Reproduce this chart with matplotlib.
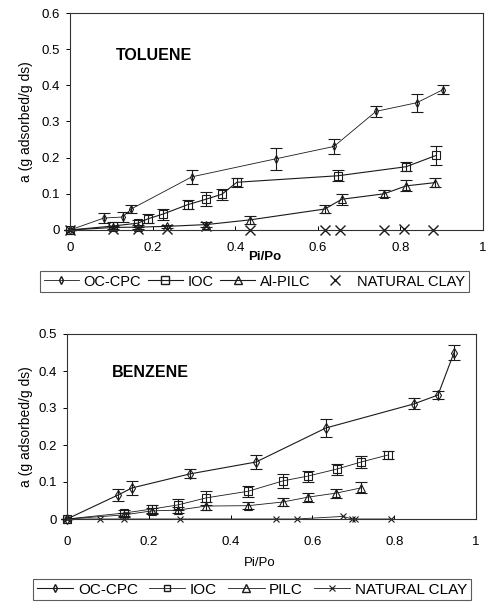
#### adsorption isotherms - toluene / benzene on clays

import matplotlib
matplotlib.use("Agg")
from matplotlib import pyplot as plt

plt.rcParams["font.family"] = ["Liberation Sans", "DejaVu Sans"]

##### TOLUENE data (Pi/Po, a, error)
tol_occpc_x = [0, 0.082, 0.128, 0.148, 0.295, 0.499, 0.639, 0.741, 0.840, 0.903]
tol_occpc_y = [0, 0.033, 0.036, 0.058, 0.147, 0.197, 0.231, 0.328, 0.352, 0.388]
tol_occpc_e = [0, 0.015, 0.015, 0.012, 0.02, 0.03, 0.02, 0.015, 0.025, 0.012]

tol_ioc_x = [0, 0.104, 0.165, 0.189, 0.225, 0.285, 0.329, 0.368, 0.404, 0.649, 0.814, 0.886]
tol_ioc_y = [0, 0.011, 0.019, 0.031, 0.044, 0.070, 0.085, 0.099, 0.132, 0.150, 0.175, 0.206]
tol_ioc_e = [0, 0.01, 0.01, 0.012, 0.015, 0.012, 0.02, 0.015, 0.012, 0.015, 0.012, 0.025]

tol_pilc_x = [0, 0.105, 0.165, 0.235, 0.330, 0.436, 0.617, 0.658, 0.760, 0.814, 0.884]
tol_pilc_y = [0, 0.007, 0.008, 0.010, 0.015, 0.028, 0.058, 0.085, 0.100, 0.122, 0.131]
tol_pilc_e = [0, 0.005, 0.005, 0.005, 0.008, 0.012, 0.01, 0.015, 0.01, 0.015, 0.012]

tol_clay_x = [0, 0.105, 0.165, 0.235, 0.330, 0.436, 0.617, 0.654, 0.760, 0.809, 0.879]
tol_clay_y = [0, 0.003, 0.003, 0.004, 0.010, 0.0, 0.0, 0.0, 0.0, 0.002, 0.0]

##### BENZENE data
ben_occpc_x = [0, 0.125, 0.159, 0.301, 0.462, 0.633, 0.848, 0.907, 0.946]
ben_occpc_y = [0, 0.065, 0.084, 0.122, 0.154, 0.246, 0.311, 0.335, 0.449]
ben_occpc_e = [0, 0.015, 0.02, 0.012, 0.02, 0.025, 0.015, 0.012, 0.02]

ben_ioc_x = [0, 0.139, 0.208, 0.271, 0.340, 0.443, 0.528, 0.589, 0.660, 0.719, 0.785]
ben_ioc_y = [0, 0.016, 0.027, 0.038, 0.057, 0.075, 0.103, 0.116, 0.135, 0.154, 0.173]
ben_ioc_e = [0, 0.008, 0.012, 0.015, 0.018, 0.015, 0.018, 0.015, 0.015, 0.015, 0.01]

ben_pilc_x = [0, 0.139, 0.208, 0.271, 0.340, 0.443, 0.528, 0.589, 0.658, 0.719]
ben_pilc_y = [0, 0.011, 0.022, 0.024, 0.035, 0.036, 0.046, 0.059, 0.070, 0.084]
ben_pilc_e = [0, 0.006, 0.008, 0.008, 0.01, 0.01, 0.012, 0.012, 0.012, 0.015]

ben_clay_x = [0, 0.081, 0.139, 0.276, 0.511, 0.562, 0.675, 0.697, 0.704, 0.792]
ben_clay_y = [0, 0.0, 0.0, 0.0, 0.0, 0.0, 0.007, 0.0, 0.0, 0.0]

tol_labels = ["OC-CPC", "IOC", "Al-PILC", "NATURAL CLAY"]
ben_labels = ["OC-CPC", "IOC", "PILC", "NATURAL CLAY"]

ink = "#1a1a1a"


def style_axes(ax, ymax, xpad):
    ax.set_xlim(0, 1)
    ax.set_ylim(0, ymax)
    n = int(round(ymax * 10))
    ax.set_xticks([0, 0.2, 0.4, 0.6, 0.8, 1])
    ax.set_xticklabels(["0", "0.2", "0.4", "0.6", "0.8", "1"])
    ax.set_yticks([i / 10 for i in range(n + 1)])
    ax.set_yticklabels(["0"] + ["%.1f" % (i / 10) for i in range(1, n + 1)])
    ax.tick_params(axis="x", direction="in", length=3, pad=xpad, labelsize=9.5, width=0.7)
    ax.tick_params(axis="y", direction="out", length=3, pad=4, labelsize=9.5, width=0.7)
    for s in ax.spines.values():
        s.set_linewidth(0.8)
        s.set_color("#333333")


def series(ax, x, y, e, marker, ms, lw=0.8):
    ax.errorbar(x, y, yerr=e, color=ink, marker=marker, ms=ms, mfc="none", mec=ink,
                mew=0.8, lw=lw, elinewidth=0.8, capsize=4, capthick=0.8, clip_on=False)


def make_legend(handles, labels, x0, yc, fs, colsp):
    leg = fig.legend(handles, labels, loc="center left", bbox_to_anchor=(x0 / 489, 1 - yc / 602),
                     ncol=4, frameon=True, fancybox=False, edgecolor="#333333", fontsize=fs,
                     handlelength=2.4, handletextpad=0.3, columnspacing=colsp, borderpad=0.25,
                     borderaxespad=0)
    leg.get_frame().set_linewidth(0.8)
    return leg


fig = plt.figure(figsize=(4.89, 6.02), dpi=100)

#### TOLUENE
ax1 = fig.add_axes([70 / 489, 1 - 230 / 602, 413 / 489, 217 / 602])
series(ax1, tol_occpc_x, tol_occpc_y, tol_occpc_e, "d", 4, 0.6)
series(ax1, tol_ioc_x, tol_ioc_y, tol_ioc_e, "s", 6)
series(ax1, tol_pilc_x, tol_pilc_y, tol_pilc_e, "^", 5.5)
ax1.plot(tol_clay_x, tol_clay_y, ls="none", marker="x", ms=7, mew=1.0, color=ink, clip_on=False)
style_axes(ax1, 0.6, 9)
ax1.text(0.11, 0.483, "TOLUENE", fontsize=11.5, fontweight="bold", va="center")
ax1.set_ylabel("a (g adsorbed/g ds)", fontsize=10)
ax1.yaxis.set_label_coords(-0.09, 0.5)
fig.text(265 / 489, 1 - 257 / 602, "Pi/Po", fontsize=9.5, fontweight="bold", ha="center", va="center")

h1 = [plt.Line2D([], [], color=ink, lw=0.6, marker="d", ms=4, mfc="none"),
      plt.Line2D([], [], color=ink, lw=0.8, marker="s", ms=6, mfc="none"),
      plt.Line2D([], [], color=ink, lw=0.8, marker="^", ms=5.5, mfc="none"),
      plt.Line2D([], [], color=ink, ls="none", marker="x", ms=7, mew=1.0)]
make_legend(h1, tol_labels, 40, 281.5, 10.5, 0.5)

#### BENZENE
ax2 = fig.add_axes([67 / 489, 1 - 519 / 602, 409 / 489, 185 / 602])
series(ax2, ben_occpc_x, ben_occpc_y, ben_occpc_e, "d", 5)
series(ax2, ben_ioc_x, ben_ioc_y, ben_ioc_e, "s", 6, 0.6)
series(ax2, ben_pilc_x, ben_pilc_y, ben_pilc_e, "^", 5.5, 0.6)
ax2.plot(ben_clay_x, ben_clay_y, color=ink, lw=0.6, marker="x", ms=4, mew=0.8, clip_on=False)
style_axes(ax2, 0.5, 12)
ax2.text(0.11, 0.395, "BENZENE", fontsize=11.5, fontweight="bold", va="center")
ax2.set_ylabel("a (g adsorbed/g ds)", fontsize=10)
ax2.yaxis.set_label_coords(-0.083, 0.5)
fig.text(260 / 489, 1 - 563 / 602, "Pi/Po", fontsize=9.5, ha="center", va="center")

h2 = [plt.Line2D([], [], color=ink, lw=0.8, marker="d", ms=4, mfc="none"),
      plt.Line2D([], [], color=ink, lw=0.6, marker="s", ms=5, mfc="none"),
      plt.Line2D([], [], color=ink, lw=0.6, marker="^", ms=5.5, mfc="none"),
      plt.Line2D([], [], color=ink, lw=0.6, marker="x", ms=4, mew=0.8)]
make_legend(h2, ben_labels, 33, 589.5, 11, 0.7)

fig.savefig("out.png", dpi=100)
